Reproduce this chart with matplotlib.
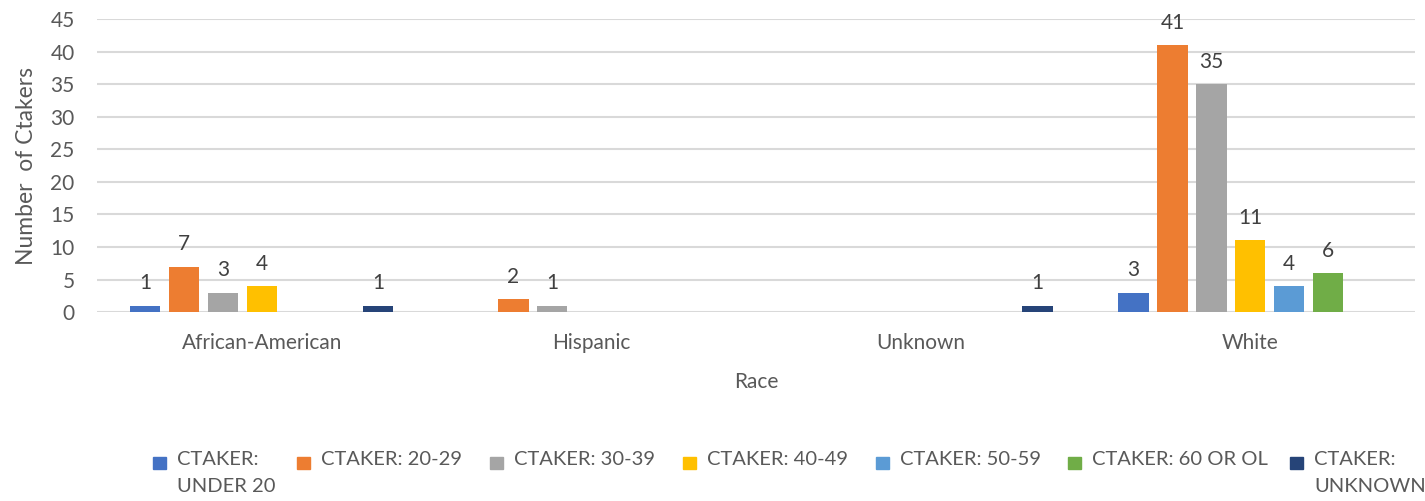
import numpy as np
import matplotlib.pyplot as plt
from matplotlib.patches import Rectangle

plt.rcParams['font.family'] = ['Lato', 'DejaVu Sans']

#
# chart data
#
races = ['African-American', 'Hispanic', 'Unknown', 'White']
series_names = ['CTAKER:\nUNDER 20', 'CTAKER: 20-29', 'CTAKER: 30-39', 'CTAKER: 40-49',
                'CTAKER: 50-59', 'CTAKER: 60 OR OL', 'CTAKER:\nUNKNOWN']
under_20 = [1, 0, 0, 3]
age_20_29 = [7, 2, 0, 41]
age_30_39 = [3, 1, 0, 35]
age_40_49 = [4, 0, 0, 11]
age_50_59 = [0, 0, 0, 4]
age_60_up = [0, 0, 0, 6]
age_unknown = [1, 0, 1, 0]
y_ticks = [0, 5, 10, 15, 20, 25, 30, 35, 40, 45]

colors = ['#4472C4', '#ED7D31', '#A5A5A5', '#FFC000', '#5B9BD5', '#70AD47', '#264478']
TXT = '#595959'
FS = 15

series = [under_20, age_20_29, age_30_39, age_40_49, age_50_59, age_60_up, age_unknown]

fig = plt.figure(figsize=(14.25, 5.01), dpi=100)
ax = fig.add_axes([0.068, 0.377, 0.925, 0.585])

x = np.arange(len(races))
step = 0.118
width = 0.092
for i, vals in enumerate(series):
    pos = x + (i - 3) * step
    bars = ax.bar(pos, vals, width=width, color=colors[i], zorder=3)
    for b, v in zip(bars, vals):
        if v:
            ax.annotate(str(v), (b.get_x() + b.get_width() / 2, v), xytext=(0, 9),
                        textcoords='offset points', ha='center', va='bottom',
                        fontsize=FS, color='#404040')

ax.set_xlim(-0.5, len(races) - 0.5)
ax.set_ylim(0, 45)
ax.set_yticks(y_ticks)
ax.set_xticks(x)
ax.set_xticklabels(races)
ax.tick_params(length=0, labelsize=FS, labelcolor=TXT)
ax.tick_params(axis='x', pad=15)
ax.tick_params(axis='y', pad=16)
ax.grid(axis='y', color='#D9D9D9', linewidth=1.5, zorder=0)
for s in ax.spines.values():
    s.set_visible(False)
ax.set_xlabel('Race', fontsize=FS, color=TXT, labelpad=14)
ax.set_ylabel('Number  of Ctakers', fontsize=16.5, color=TXT, labelpad=10)

# legend, laid out like the Excel one
leg_px = [153, 297, 490, 683, 876, 1068, 1290]
for px, name, c in zip(leg_px, series_names, colors):
    lx = px / 1425
    fig.patches.append(Rectangle((lx, 0.064), 13 / 1425, 0.024, color=c,
                                 transform=fig.transFigure, figure=fig))
    fig.text(lx + 24 / 1425, 0.099, name, fontsize=14.5, color=TXT, va='top',
             ha='left', linespacing=1.7)

fig.savefig('out.png', dpi=100)
